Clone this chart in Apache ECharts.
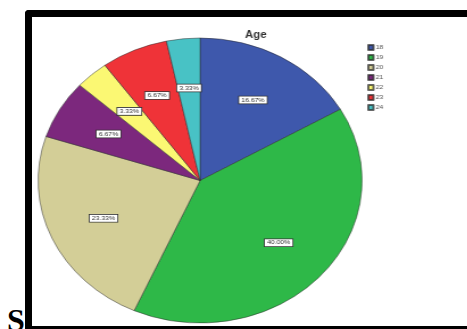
<!DOCTYPE html>
<html>
<head>
<meta charset="utf-8">
<script src="https://cdn.jsdelivr.net/npm/echarts@6/dist/echarts.min.js"></script>
<style>
  html, body { margin: 0; padding: 0; background: #fff; overflow: hidden; }
  #wrap { position: relative; width: 467px; height: 329px; overflow: hidden; }
  #frame { position: absolute; left: 25px; top: 10px; width: 460px; height: 319px; box-sizing: border-box;
           border-top: 7px solid #000; border-left: 7px solid #000; border-bottom: 3px solid #000;
           border-top-left-radius: 4px; }
  #s { position: absolute; left: 7px; top: 304px; font: bold 32px/32px "Liberation Serif", "DejaVu Serif", serif; color: #000; }
  #chart { position: absolute; left: 0; top: 0; width: 411px; height: 329px; transform: scaleX(1.1368); transform-origin: 0 0; }
</style>
</head>
<body>
<div id="wrap">
  <div id="frame"></div>
  <div id="s">S</div>
  <div id="chart"></div>
</div>
<script>
const categories = ['18', '19', '20', '21', '22', '23', '24'];
const percents = [16.67, 40.00, 23.33, 6.67, 3.33, 6.67, 3.33];
const colors = ['#3E58AC', '#2EB848', '#D3CE97', '#7C287D', '#FBF873', '#EF3338', '#48C2C5'];

const pieData = categories.map((c, i) => ({ name: c, value: percents[i], itemStyle: { color: colors[i] } }));
const labelData = categories.map((c, i) => ({ name: c, value: percents[i] }));

const chart = echarts.init(document.getElementById('chart'), null, { renderer: 'canvas' });
chart.setOption({
  animation: false,
  title: {
    text: 'Age', left: 220, top: 25, textAlign: 'center',
    textStyle: { fontSize: 10, fontWeight: 'bold', color: '#333', fontFamily: 'Arial, Liberation Sans, sans-serif' }
  },
  legend: {
    orient: 'vertical', left: 318, top: 39,
    itemWidth: 4.5, itemHeight: 5, itemGap: 3,
    icon: 'rect',
    data: categories,
    textStyle: { fontSize: 6, color: '#555', padding: [0, 0, 0, -3] }
  },
  series: [
    {
      type: 'pie', center: [176, 180.5], radius: [0, 142.5], startAngle: 90, clockwise: true,
      data: pieData, label: { show: false }, labelLine: { show: false },
      itemStyle: { borderColor: 'rgba(40,40,40,0.7)', borderWidth: 0.7 },
      emphasis: { disabled: true }, silent: true
    },
    {
      type: 'pie', center: [176, 180.5], radius: [0, 180], startAngle: 90, clockwise: true,
      data: labelData, z: 5, silent: true,
      itemStyle: { color: 'rgba(0,0,0,0)', borderWidth: 0 },
      emphasis: { disabled: true },
      labelLine: { show: false },
      label: {
        show: true, position: 'inside',
        formatter: p => p.value.toFixed(2) + '%',
        fontSize: 6, color: '#333', backgroundColor: '#fff',
        borderColor: '#333', borderWidth: 0.8, padding: [1, 2, 0, 2],
        fontFamily: 'Arial, Liberation Sans, sans-serif'
      }
    }
  ]
});
</script>
</body>
</html>
